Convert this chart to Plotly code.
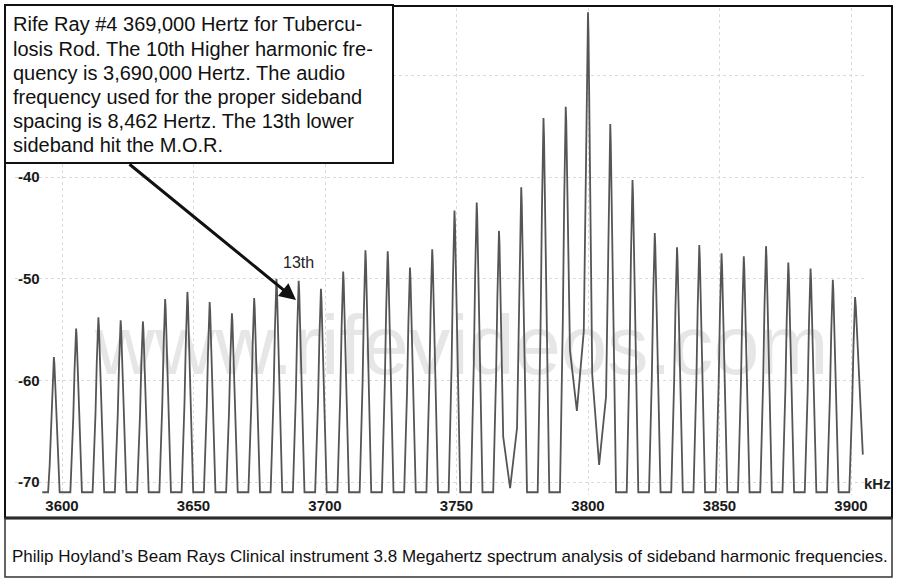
import plotly.graph_objects as go

# ---------------- data ----------------
carrier_khz = 3800.0
spacing_khz = 8.462
orders = list(range(-24, 13))
peak_db = [-57.7, -54.9, -53.8, -54.1, -54.2, -52.0, -51.3, -52.3, -53.4, -51.9,
           -50.0, -50.2, -51.0, -49.3, -47.2, -47.3, -48.9, -47.1, -43.3, -42.5,
           -45.3, -41.0, -34.2, -33.1, -23.8, -34.8, -40.3, -45.5, -46.9, -46.7,
           -47.5, -47.8, -46.8, -48.4, -49.0, -50.1, -51.8]
floor_db = -71.0
raised_valley_after = [-4, -1, 0]        # order of the peak left of the valley
raised_valley_db = [-70.6, -63.0, -68.3]
trace_start_khz = 3592.5
trace_end_khz = 3904.5
trace_end_db = -67.3

x_ticks = [3600, 3650, 3700, 3750, 3800, 3850, 3900]
y_ticks = [-70, -60, -50, -40, -30]
y_ticktext = ["-70", "-60", "-50", "-40", ""]

box_lines = [
    "Rife Ray #4 369,000 Hertz for Tubercu-",
    "losis Rod. The 10th Higher harmonic fre-",
    "quency is 3,690,000 Hertz. The audio",
    "frequency used for the proper sideband",
    "spacing is 8,462 Hertz. The 13th lower",
    "sideband hit the M.O.R.",
]
caption = ("Philip Hoyland\u2019s Beam Rays Clinical instrument 3.8 Megahertz "
           "spectrum analysis of sideband harmonic frequencies.")
marked_order = -13
watermark = "www.rifevideos.com"

# spectral line profile (style of each spike)
prof_off = [1.6, 1.1, 0.6, 0.2]
prof_frac = [0.2, 0.45, 0.75, 0.95]
base_off = 2.2

# ---------------- build trace ----------------
raised = dict(zip(raised_valley_after, raised_valley_db))
xs = [trace_start_khz]
ys = [floor_db]
for i, n in enumerate(orders):
    f = carrier_khz + n * spacing_khz
    p = peak_db[i]
    left_raised = (n - 1) in raised
    lf = raised[n - 1] if left_raised else floor_db
    if not left_raised:
        xs.append(f - base_off); ys.append(floor_db)
    for o, fr in zip(prof_off, prof_frac):
        xs.append(f - o); ys.append(lf + fr * (p - lf))
    xs.append(f); ys.append(p)
    last = (i == len(orders) - 1)
    if last:
        # trailing edge of the final line, cut off at the end of the sweep
        xs.append(f + 0.3); ys.append(p - 1.0)
        xs.append(f + 1.2); ys.append(p - 6.0)
        xs.append(trace_end_khz); ys.append(trace_end_db)
        continue
    right_raised = n in raised
    rf = raised[n] if right_raised else floor_db
    for o, fr in zip(reversed(prof_off), reversed(prof_frac)):
        xs.append(f + o); ys.append(rf + fr * (p - rf))
    if right_raised:
        xs.append(f + spacing_khz / 2); ys.append(raised[n])
    else:
        xs.append(f + base_off); ys.append(floor_db)

# ---------------- geometry helpers ----------------
FW, FH = 900, 585
L, R, T, B = 15, 865, 8, 495
PW, PH = R - L, B - T


def px(x):
    return (x - L) / PW


def py(y):
    return (B - y) / PH


x_lo = 3600 + (L - 62) / 2.63
x_hi = 3600 + (R - 62) / 2.63
y_hi = -40 + (177 - T) / 10.17
y_lo = -40 - (B - 177) / 10.17

fig = go.Figure()
# watermark (drawn first so spectrum lies over it)
fig.add_trace(go.Scatter(
    x=[3752], y=[-57.3], mode="text", text=[watermark],
    textfont=dict(family="Liberation Sans, Arial, sans-serif", size=83, color="#e6e6e6"),
    hoverinfo="skip", showlegend=False))
fig.add_trace(go.Scatter(
    x=xs, y=ys, mode="lines", line=dict(color="#555555", width=1.8),
    hoverinfo="skip", showlegend=False))

shapes = [
    dict(type="rect", xref="paper", yref="paper", x0=px(5), x1=px(892), y0=py(6), y1=py(518),
         line=dict(color="#111111", width=2), layer="above"),
    dict(type="line", xref="paper", yref="paper", x0=px(5), x1=px(892), y0=py(518), y1=py(518),
         line=dict(color="#111111", width=3), layer="above"),
    dict(type="rect", xref="paper", yref="paper", x0=px(5), x1=px(892), y0=py(518), y1=py(577),
         line=dict(color="#333333", width=1.5), layer="above"),
    dict(type="rect", xref="paper", yref="paper", x0=px(5), x1=px(393), y0=py(5), y1=py(163),
         fillcolor="white", line=dict(color="#111111", width=2), layer="above"),
]

annotations = []
line_y = [24, 49, 73, 97, 121, 145]
for txt, yy in zip(box_lines, line_y):
    annotations.append(dict(
        xref="paper", yref="paper", x=px(11), y=py(yy), xanchor="left", yanchor="middle",
        text=txt, showarrow=False,
        font=dict(family="Liberation Sans, Arial, sans-serif", size=20, color="#111111")))

# arrow
annotations.append(dict(
    xref="paper", yref="paper", x=px(296), y=py(300), ax=128 - 296, ay=163 - 300,
    axref="pixel", ayref="pixel", text="", showarrow=True, arrowhead=2, arrowsize=1.1,
    arrowwidth=3, arrowcolor="#111111"))

# 13th label
annotations.append(dict(
    x=carrier_khz + marked_order * spacing_khz, y=-48.4, text="13th", showarrow=False,
    xanchor="center", yanchor="middle",
    font=dict(family="Liberation Sans, Arial, sans-serif", size=16, color="#222222")))

# kHz label
annotations.append(dict(
    xref="paper", yref="paper", x=px(877), y=py(483), text="kHz", showarrow=False,
    xanchor="center", yanchor="middle",
    font=dict(family="Liberation Sans, Arial, sans-serif", size=15, color="#222222", weight="bold")))

# caption
annotations.append(dict(
    xref="paper", yref="paper", x=px(450), y=py(556), text=caption, showarrow=False,
    xanchor="center", yanchor="middle",
    font=dict(family="Liberation Sans Narrow, Arial Narrow, Liberation Sans, sans-serif",
              size=17, color="#111111")))

fig.update_layout(
    width=FW, height=FH,
    margin=dict(l=L, r=FW - R, t=T, b=FH - B),
    paper_bgcolor="white", plot_bgcolor="white",
    showlegend=False,
    shapes=shapes, annotations=annotations,
    xaxis=dict(range=[x_lo, x_hi], tickvals=x_ticks, showgrid=True, griddash="dot",
               gridcolor="#dadada", gridwidth=1, zeroline=False, showline=False, ticks="",
               tickfont=dict(family="Liberation Sans, Arial, sans-serif", size=15,
                             color="#1a1a1a", weight="bold")),
    yaxis=dict(range=[y_lo, y_hi], tickvals=y_ticks, ticktext=y_ticktext, showgrid=True,
               griddash="dot", gridcolor="#dadada", gridwidth=1, zeroline=False,
               showline=False, ticks="", ticklabelposition="inside",
               tickfont=dict(family="Liberation Sans, Arial, sans-serif", size=15,
                             color="#1a1a1a", weight="bold")),
)

fig.write_html("out.html")
